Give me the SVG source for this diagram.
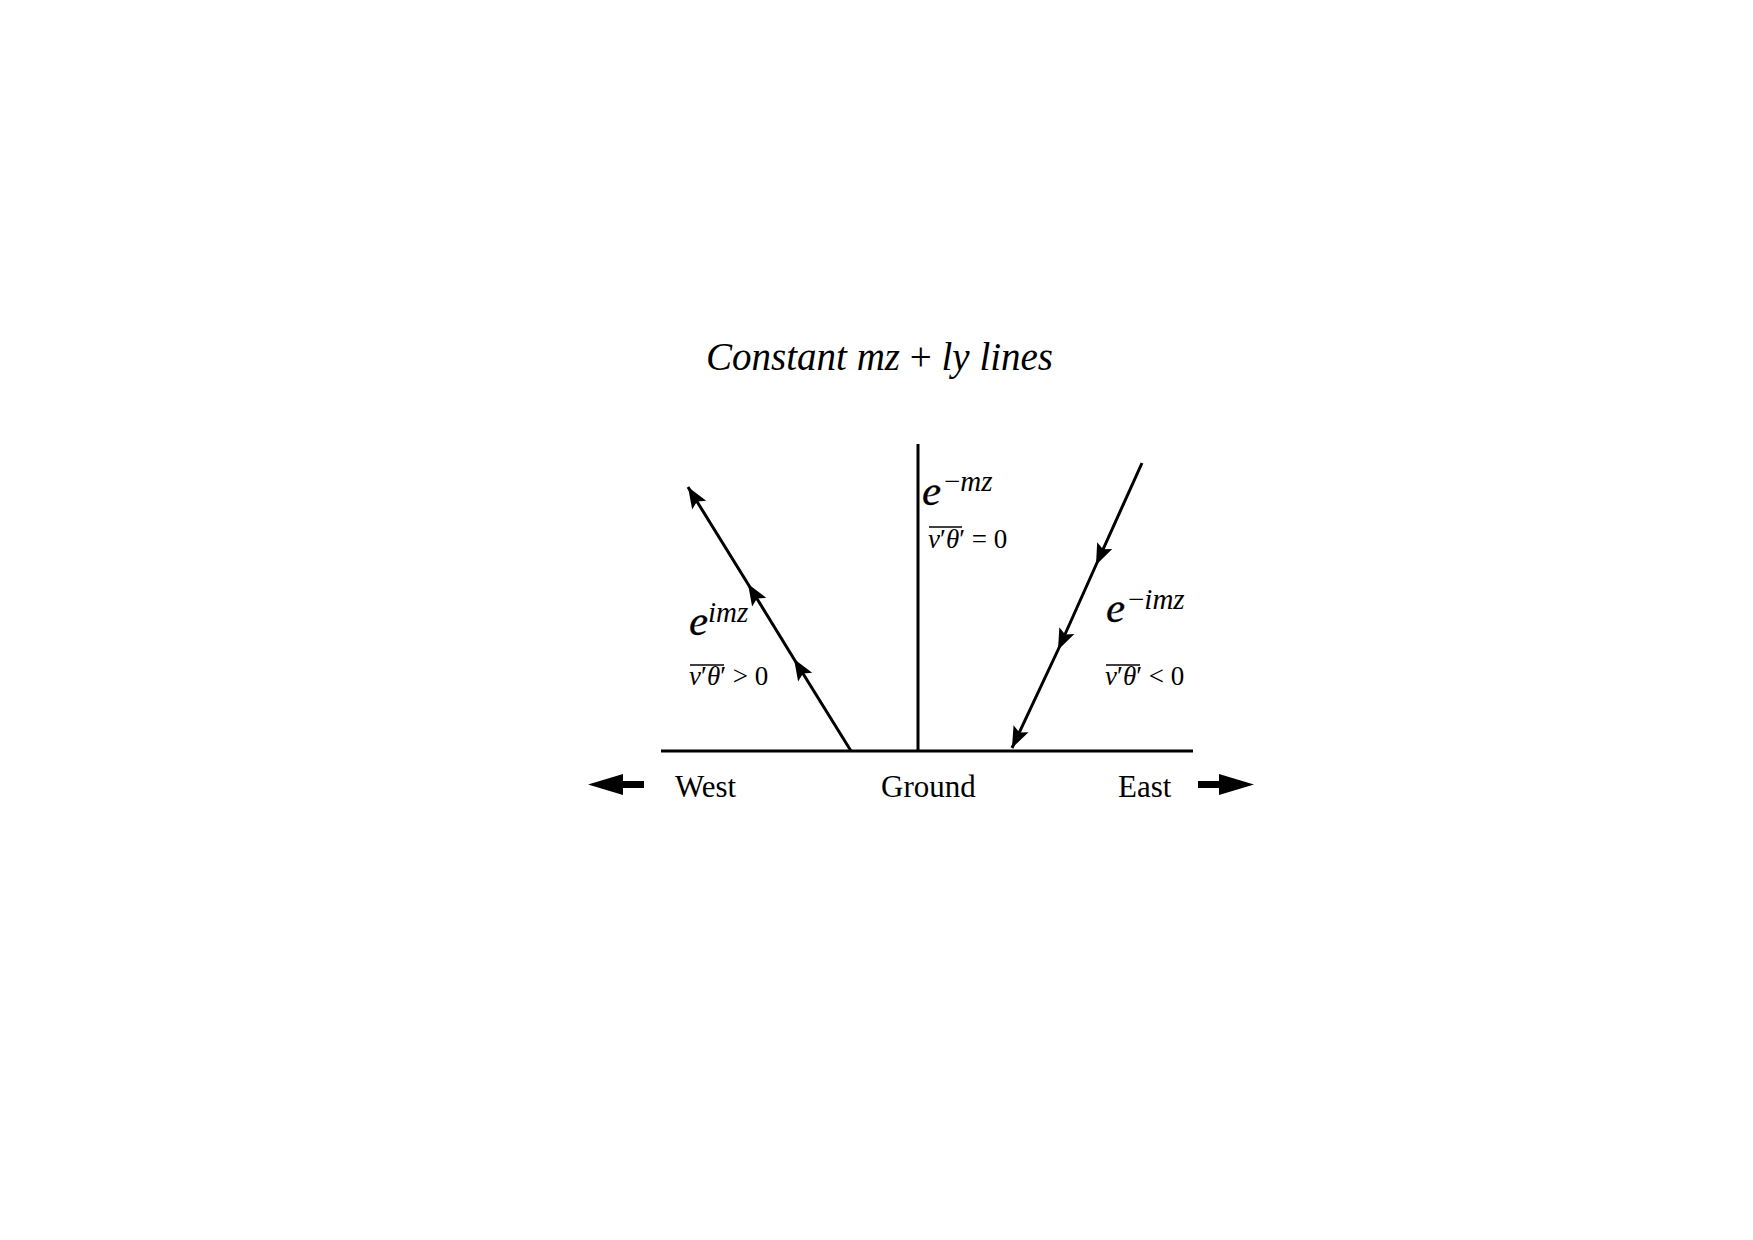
<svg xmlns="http://www.w3.org/2000/svg" width="1753" height="1240" viewBox="0 0 1753 1240">
<defs>
<style>
.txt{font-family:"Liberation Serif","Times New Roman",serif;fill:#000}
.it{font-style:italic}
.up{font-style:normal}
.ln{stroke:#000;stroke-width:3;fill:none}
.ol{stroke:#000;stroke-width:1.5}
.ee{font-size:43px;stroke:#000;stroke-width:0.3}
.sup{font-size:29px}
</style>
<marker id="ah" markerUnits="userSpaceOnUse" markerWidth="26" markerHeight="22" viewBox="-20 -9 22 18" refX="0" refY="0" orient="auto">
<path d="M0,0 L-18,-7 L-14.5,0 L-18,7 Z" fill="#000"/>
</marker>
</defs>
<rect width="1753" height="1240" fill="#fff"/>
<g id="title">
<text class="txt it" x="706" y="370" font-size="39">Constant <tspan>mz</tspan> <tspan class="up">+</tspan> <tspan>ly</tspan> lines</text>
</g>
<g id="connectors">
<line id="ground" class="ln" x1="661" y1="751" x2="1193" y2="751"/>
<line id="vertical" class="ln" x1="918" y1="444" x2="918" y2="751"/>
<path id="west-ray" class="ln" d="M851,751 L794,659 L748,584 L688,487" marker-mid="url(#ah)" marker-end="url(#ah)"/>
<path id="east-ray" class="ln" d="M1142,463 L1096,565 L1058,650 L1012,748" marker-mid="url(#ah)" marker-end="url(#ah)"/>
</g>
<g id="west-arrow">
<path d="M588,784.5 L623,774 L623,781 L644,781 L644,788 L623,788 L623,795 Z" fill="#000"/>
</g>
<g id="east-arrow">
<path d="M1254,784.5 L1219,774 L1219,781 L1198,781 L1198,788 L1219,788 L1219,795 Z" fill="#000"/>
</g>
<g id="label-center">
<text class="txt it ee" x="922" y="505">e</text>
<text class="txt it sup" x="944" y="491"><tspan class="up">−</tspan>mz</text>
<line class="ol" x1="929" y1="527" x2="962" y2="527"/>
<text class="txt" x="928" y="548" font-size="27"><tspan class="it">v</tspan>′<tspan class="it">θ</tspan>′ = 0</text>
</g>
<g id="label-west">
<text class="txt it ee" x="689" y="635">e</text>
<text class="txt it sup" x="708" y="622">imz</text>
<line class="ol" x1="690" y1="665" x2="724" y2="665"/>
<text class="txt" x="689" y="685" font-size="27"><tspan class="it">v</tspan>′<tspan class="it">θ</tspan>′ &gt; 0</text>
</g>
<g id="label-east">
<text class="txt it ee" x="1106" y="622">e</text>
<text class="txt it sup" x="1128" y="609"><tspan class="up">−</tspan>imz</text>
<line class="ol" x1="1106" y1="665" x2="1140" y2="665"/>
<text class="txt" x="1105" y="685" font-size="27"><tspan class="it">v</tspan>′<tspan class="it">θ</tspan>′ &lt; 0</text>
</g>
<g id="label-west-text"><text class="txt" x="675" y="797" font-size="31">West</text></g>
<g id="label-ground"><text class="txt" x="881" y="797" font-size="31">Ground</text></g>
<g id="label-east-text"><text class="txt" x="1118" y="797" font-size="31">East</text></g>
</svg>
